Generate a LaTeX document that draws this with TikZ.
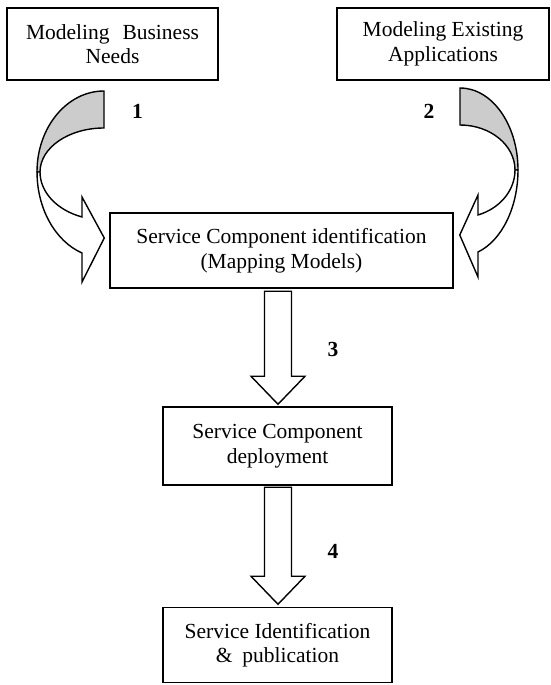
\documentclass[tikz,border=0pt]{standalone}
\usepackage{fontspec}
\setmainfont{Liberation Serif}
\usetikzlibrary{calc}
\definecolor{backgray}{gray}{0.8}
\begin{document}
\begin{tikzpicture}[x=1pt,y=-1pt,
  box/.style={draw, line width=1.5pt, align=center, inner sep=0pt, fill=white,
              font=\fontsize{21.5}{24.5}\selectfont},
  band/.style={draw, line width=1.4pt, line join=miter},
  lbl/.style={anchor=base, font=\fontsize{21.5}{24.5}\selectfont\bfseries}]
\useasboundingbox (0,0) rectangle (551,685);

% boxes
\node[box, minimum width=211, minimum height=72] (need) at (112.5,44)
  {Modeling\hspace{0.6em}Business\\Needs};
\node[box, minimum width=212, minimum height=72] (exist) at (443,44)
  {Modeling Existing\\Applications};
\node[box, minimum width=343, minimum height=75] (ident) at (281.5,250.5)
  {Service Component identification\\(Mapping Models)};
\node[box, minimum width=229, minimum height=78] (deploy) at (277.5,446)
  {Service Component\\deployment};
\node[box, minimum width=229, minimum height=75] (pub) at (277.5,645)
  {Service Identification\\\&\hspace{0.45em}publication};

% left curved arrow (1)
\filldraw[band, fill=backgray] (104,91) arc[start angle=270, end angle=180, x radius=67, y radius=81]
  -- (40,172) arc[start angle=180, end angle=270, x radius=64, y radius=44] -- cycle;
\coordinate (ltip) at ($(ident.west)+(-5,-12.5)$);
\filldraw[band, fill=white] (40,172) arc[start angle=180, end angle=110.1, x radius=64, y radius=47.9]
  -- (82,197) -- (ltip) -- (82,282) -- (82,253)
  arc[start angle=109.2, end angle=180, x radius=67, y radius=85.7] -- cycle;

% right curved arrow (2)
\filldraw[band, fill=backgray] (460,88) arc[start angle=270, end angle=360, x radius=58, y radius=82]
  -- (515,170) arc[start angle=0, end angle=-90, x radius=55, y radius=45] -- cycle;
\coordinate (rtip) at ($(ident.east)+(6,-15.5)$);
\filldraw[band, fill=white] (515,170) arc[start angle=0, end angle=70.9, x radius=55, y radius=47.6]
  -- (478,195) -- (rtip) -- (478,277) -- (478,252)
  arc[start angle=71.9, end angle=0, x radius=58, y radius=86.2] -- cycle;

% straight block arrows (3) and (4)
\coordinate (t3) at ($(deploy.north)+(0.5,-2)$);
\filldraw[band, fill=white] (t3) -- ++(-27,-28) -- ++(13.5,0) -- ++(0,-85) -- ++(27,0)
  -- ++(0,85) -- ++(13.5,0) -- cycle;
\coordinate (t4) at ($(pub.north)+(0.5,-2.5)$);
\filldraw[band, fill=white] (t4) -- ++(-27,-28) -- ++(13.5,0) -- ++(0,-89) -- ++(27,0)
  -- ++(0,89) -- ++(13.5,0) -- cycle;

% step numbers
\node[lbl] (n1) at (137.5,118) {1};
\node[lbl] (n2) at (429,118) {2};
\node[lbl] (n3) at (333,356) {3};
\node[lbl] (n4) at (333,558) {4};
\end{tikzpicture}
\end{document}
